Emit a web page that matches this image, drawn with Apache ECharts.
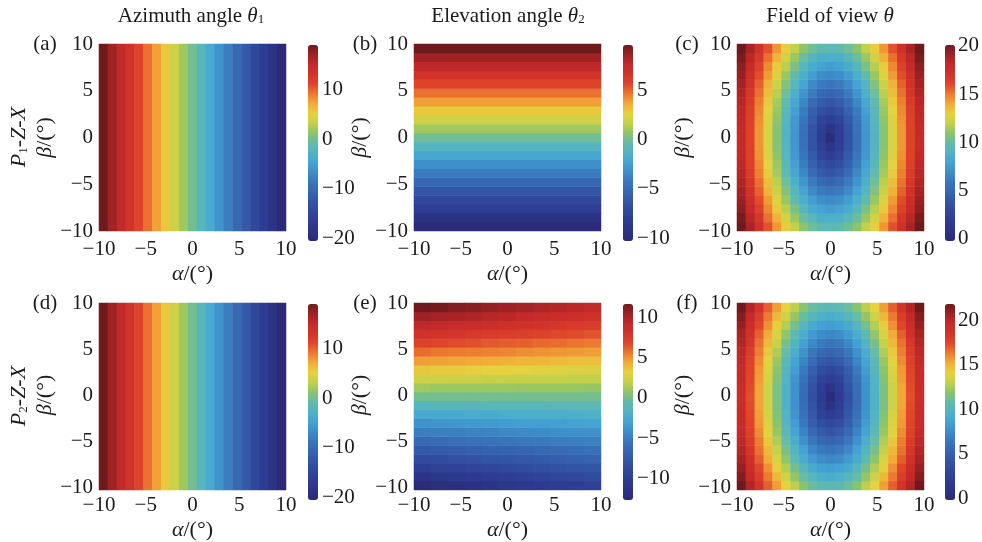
<!DOCTYPE html>
<html>
<head>
<meta charset="utf-8">
<script src="https://cdn.jsdelivr.net/npm/echarts@6/dist/echarts.min.js"></script>
<style>
  html, body { margin: 0; padding: 0; background: #fff; }
  #chart { width: 982px; height: 542px; }
</style>
</head>
<body>
<div id="chart"></div>
<script>
// grid points (degrees)
const alphaCats = [-10, -9, -8, -7, -6, -5, -4, -3, -2, -1, 0, 1, 2, 3, 4, 5, 6, 7, 8, 9, 10];
const betaCats = [-10, -9, -8, -7, -6, -5, -4, -3, -2, -1, 0, 1, 2, 3, 4, 5, 6, 7, 8, 9, 10];
const elevAlphaCats = [-10, -8, -6, -4, -2, 0, 2, 4, 6, 8, 10];
const anyCat = ['all'];   // a single band where the value does not depend on that angle

// azimuth angle theta1 vs alpha (same for every beta)
const azimuthP1 = [19.0, 17.1, 15.2, 13.3, 11.4, 9.5, 7.6, 5.7, 3.8, 1.9, 0.0, -2.0, -4.0, -6.1, -8.1, -10.2, -12.2, -14.3, -16.4, -18.5, -20.6];
const azimuthP2 = [19.0, 17.1, 15.2, 13.3, 11.4, 9.5, 7.6, 5.7, 3.8, 1.9, 0.0, -2.0, -4.0, -6.1, -8.1, -10.2, -12.2, -14.3, -16.4, -18.5, -20.6];

// elevation angle theta2 vs beta (P1, same for every alpha)
const elevationP1 = [-10.3, -9.3, -8.3, -7.3, -6.3, -5.2, -4.2, -3.2, -2.1, -1.1, 0.0, 1.0, 1.9, 2.9, 3.9, 4.8, 5.8, 6.7, 7.7, 8.6, 9.6];

// elevation angle theta2 (P2): rows beta -10..10, columns alpha -10..10 step 2
const elevationP2 = [
  [-12.5, -12.2, -11.9, -11.7, -11.4, -11.1, -10.8, -10.5, -10.3, -10.0, -9.7],
  [-11.3, -11.0, -10.7, -10.5, -10.2, -10.0, -9.7, -9.5, -9.2, -9.0, -8.7],
  [-10.0, -9.8, -9.6, -9.3, -9.1, -8.9, -8.7, -8.4, -8.2, -8.0, -7.8],
  [-8.8, -8.6, -8.4, -8.2, -8.0, -7.8, -7.6, -7.4, -7.2, -7.0, -6.8],
  [-7.5, -7.3, -7.2, -7.0, -6.8, -6.7, -6.5, -6.3, -6.2, -6.0, -5.8],
  [-6.3, -6.1, -6.0, -5.8, -5.7, -5.6, -5.4, -5.3, -5.1, -5.0, -4.9],
  [-5.0, -4.9, -4.8, -4.7, -4.6, -4.4, -4.3, -4.2, -4.1, -4.0, -3.9],
  [-3.8, -3.7, -3.6, -3.5, -3.4, -3.3, -3.2, -3.2, -3.1, -3.0, -2.9],
  [-2.5, -2.4, -2.4, -2.3, -2.3, -2.2, -2.2, -2.1, -2.1, -2.0, -1.9],
  [-1.3, -1.2, -1.2, -1.2, -1.1, -1.1, -1.1, -1.1, -1.0, -1.0, -1.0],
  [0.0, 0.0, 0.0, 0.0, 0.0, 0.0, 0.0, 0.0, 0.0, 0.0, 0.0],
  [1.2, 1.1, 1.1, 1.1, 1.1, 1.1, 1.0, 1.0, 1.0, 1.0, 0.9],
  [2.3, 2.3, 2.2, 2.2, 2.1, 2.1, 2.1, 2.0, 2.0, 1.9, 1.9],
  [3.5, 3.4, 3.4, 3.3, 3.2, 3.2, 3.1, 3.0, 2.9, 2.9, 2.8],
  [4.7, 4.6, 4.5, 4.4, 4.3, 4.2, 4.1, 4.0, 3.9, 3.8, 3.7],
  [5.9, 5.7, 5.6, 5.5, 5.4, 5.3, 5.1, 5.0, 4.9, 4.8, 4.7],
  [7.0, 6.9, 6.7, 6.6, 6.4, 6.3, 6.2, 6.0, 5.9, 5.7, 5.6],
  [8.2, 8.0, 7.9, 7.7, 7.5, 7.4, 7.2, 7.0, 6.8, 6.7, 6.5],
  [9.4, 9.2, 9.0, 8.8, 8.6, 8.4, 8.2, 8.0, 7.8, 7.6, 7.4],
  [10.5, 10.3, 10.1, 9.9, 9.7, 9.5, 9.2, 9.0, 8.8, 8.6, 8.4],
  [11.7, 11.5, 11.2, 11.0, 10.7, 10.5, 10.3, 10.0, 9.8, 9.5, 9.3]
];

// field of view theta, one quadrant: rows |beta| 0..10, columns |alpha| 0..10 (plot is symmetric)
const fovP1Quarter = [
  [0.0, 1.8, 3.6, 5.4, 7.2, 9.0, 10.8, 12.6, 14.4, 16.2, 18.0],
  [1.0, 2.0, 3.7, 5.5, 7.3, 9.1, 10.8, 12.6, 14.4, 16.2, 18.0],
  [1.9, 2.6, 4.1, 5.7, 7.4, 9.2, 11.0, 12.7, 14.5, 16.3, 18.1],
  [2.9, 3.4, 4.6, 6.1, 7.7, 9.4, 11.2, 12.9, 14.7, 16.4, 18.2],
  [3.8, 4.2, 5.2, 6.6, 8.1, 9.8, 11.4, 13.2, 14.9, 16.6, 18.4],
  [4.8, 5.1, 6.0, 7.2, 8.6, 10.2, 11.8, 13.5, 15.2, 16.9, 18.6],
  [5.7, 6.0, 6.7, 7.9, 9.2, 10.7, 12.2, 13.8, 15.5, 17.2, 18.9],
  [6.7, 6.9, 7.6, 8.6, 9.8, 11.2, 12.7, 14.3, 15.9, 17.5, 19.2],
  [7.6, 7.8, 8.4, 9.3, 10.5, 11.8, 13.2, 14.7, 16.3, 17.9, 19.5],
  [8.6, 8.7, 9.3, 10.1, 11.2, 12.4, 13.8, 15.2, 16.8, 18.3, 19.9],
  [9.5, 9.7, 10.2, 10.9, 11.9, 13.1, 14.4, 15.8, 17.3, 18.8, 20.4]
];
const fovP2Quarter = [
  [0.0, 1.9, 3.8, 5.7, 7.7, 9.6, 11.5, 13.4, 15.3, 17.2, 19.1],
  [1.0, 2.2, 4.0, 5.8, 7.7, 9.6, 11.5, 13.4, 15.3, 17.3, 19.2],
  [2.1, 2.8, 4.4, 6.1, 7.9, 9.8, 11.7, 13.6, 15.5, 17.4, 19.3],
  [3.1, 3.6, 4.9, 6.5, 8.3, 10.1, 11.9, 13.8, 15.6, 17.5, 19.4],
  [4.1, 4.6, 5.6, 7.1, 8.7, 10.4, 12.2, 14.0, 15.9, 17.7, 19.6],
  [5.2, 5.5, 6.4, 7.7, 9.2, 10.9, 12.6, 14.4, 16.2, 18.0, 19.8],
  [6.2, 6.5, 7.3, 8.5, 9.9, 11.4, 13.1, 14.8, 16.5, 18.3, 20.1],
  [7.2, 7.5, 8.2, 9.2, 10.5, 12.0, 13.6, 15.2, 16.9, 18.7, 20.5],
  [8.3, 8.5, 9.1, 10.1, 11.3, 12.7, 14.2, 15.8, 17.4, 19.1, 20.9],
  [9.3, 9.5, 10.1, 10.9, 12.1, 13.4, 14.8, 16.3, 17.9, 19.6, 21.3],
  [10.4, 10.5, 11.0, 11.8, 12.9, 14.1, 15.5, 16.9, 18.5, 20.1, 21.8]
];

// colorbar tick labels
const azimuthTicks = [-20, -10, 0, 10];
const elevationP1Ticks = [-10, -5, 0, 5];
const elevationP2Ticks = [-10, -5, 0, 5, 10];
const fovTicks = [0, 5, 10, 15, 20];

const FONT = 'Liberation Serif';
const TXT = '#1b1b1b';
const JET = ['#2a2a78', '#2c3385', '#2e3c92', '#30479b', '#3355a5', '#3665b0', '#3977bc',
             '#3d8dc8', '#45a3d4', '#50b3c6', '#62bbab', '#8cc46a', '#c4d04a', '#e6d23f',
             '#f2ab38', '#ec7a30', '#df462b', '#d2332a', '#c32a29', '#9f2225', '#6e1a1c'];

function minus(v) { return String(v).replace('-', '\u2212'); }

function buildCells(xs, ys, valueAt) {
  const out = [];
  ys.forEach((b, j) => xs.forEach((a, i) => out.push([i, j, valueAt(i, j, a, b)])));
  return out;
}

const COLS = [99, 414, 737];
const ROWS = [44, 303];
const CB_LEFT = [308, 623, 945];

const panels = [
  { col: 0, row: 0, xs: alphaCats, ys: anyCat, range: [-20.6, 19.1], ticks: azimuthTicks,
    cells: buildCells(alphaCats, anyCat, (i) => azimuthP1[i]) },
  { col: 1, row: 0, xs: anyCat, ys: betaCats, range: [-10.3, 9.6], ticks: elevationP1Ticks,
    cells: buildCells(anyCat, betaCats, (i, j) => elevationP1[j]) },
  { col: 2, row: 0, xs: alphaCats, ys: betaCats, range: [-0.3, 20.1], ticks: fovTicks,
    cells: buildCells(alphaCats, betaCats, (i, j, a, b) => fovP1Quarter[Math.abs(b)][Math.abs(a)]) },
  { col: 0, row: 1, xs: alphaCats, ys: anyCat, range: [-20.6, 19.1], ticks: azimuthTicks,
    cells: buildCells(alphaCats, anyCat, (i) => azimuthP2[i]) },
  { col: 1, row: 1, xs: elevAlphaCats, ys: betaCats, range: [-12.7, 11.7], ticks: elevationP2Ticks,
    cells: buildCells(elevAlphaCats, betaCats, (i, j) => elevationP2[j][i]) },
  { col: 2, row: 1, xs: alphaCats, ys: betaCats, range: [-0.2, 21.8], ticks: fovTicks,
    cells: buildCells(alphaCats, betaCats, (i, j, a, b) => fovP2Quarter[Math.abs(b)][Math.abs(a)]) }
];

const labelStyle = { fontFamily: FONT, fontSize: 21, color: TXT };
const nameStyle = { fontFamily: FONT, fontSize: 22, color: TXT,
  rich: { i: { fontFamily: FONT, fontSize: 22, fontStyle: 'italic', color: TXT } } };

const grids = [], xAxes = [], yAxes = [], series = [], visualMaps = [];
panels.forEach((p, k) => {
  const left = COLS[p.col], top = ROWS[p.row];
  const g = grids.length, ax = xAxes.length;
  const box = { left: left, top: top, width: 187, height: 187 };
  grids.push(Object.assign({}, box));
  grids.push(Object.assign({}, box));
  grids.push({ left: CB_LEFT[p.col], top: top + 1, width: 10, height: 196 });

  // heatmap axes (hidden)
  xAxes.push({ type: 'category', gridIndex: g, data: p.xs, show: false });
  yAxes.push({ type: 'category', gridIndex: g, data: p.ys, show: false });
  // display axes
  xAxes.push({
    type: 'value', gridIndex: g + 1, min: -10, max: 10, interval: 5,
    axisLine: { show: false }, axisTick: { show: false }, splitLine: { show: false },
    axisLabel: Object.assign({ margin: 8, formatter: minus }, labelStyle),
    name: '{i|\u03b1}/(\u00b0)', nameLocation: 'middle', nameGap: 32,
    nameTextStyle: nameStyle
  });
  yAxes.push({
    type: 'value', gridIndex: g + 1, min: -10, max: 10, interval: 5,
    axisLine: { show: false }, axisTick: { show: false }, splitLine: { show: false },
    axisLabel: Object.assign({ margin: 6, formatter: minus }, labelStyle),
    name: '{i|\u03b2}/(\u00b0)', nameLocation: 'middle', nameGap: 23,
    nameTextStyle: nameStyle
  });
  // colorbar axes
  xAxes.push({ type: 'value', gridIndex: g + 2, show: false, min: 0, max: 1 });
  yAxes.push({
    type: 'value', gridIndex: g + 2, position: 'right', min: p.range[0], max: p.range[1],
    axisLine: { show: false }, axisTick: { show: false }, splitLine: { show: false },
    axisLabel: Object.assign({ margin: 4, formatter: minus, customValues: p.ticks }, labelStyle)
  });

  series.push({
    type: 'heatmap', xAxisIndex: ax, yAxisIndex: ax, data: p.cells,
    silent: true, emphasis: { disabled: true }, progressive: 0
  });
  visualMaps.push({
    type: 'continuous', seriesIndex: k, min: p.range[0], max: p.range[1],
    calculable: false, hoverLink: false, padding: 0,
    left: CB_LEFT[p.col], top: top + 1, itemWidth: 10, itemHeight: 196,
    inRange: { color: JET }
  });
});

function textEl(x, y, text, size, extra) {
  return Object.assign({
    type: 'text', x: x, y: y, silent: true,
    style: {
      text: text, fontFamily: FONT, fontSize: size, fill: TXT, align: 'center', verticalAlign: 'middle',
      rich: {
        i: { fontFamily: FONT, fontSize: size, fontStyle: 'italic', color: TXT },
        s: { fontFamily: FONT, fontSize: 13, color: TXT, verticalAlign: 'bottom', padding: [8, 0, 0, 0] }
      }
    }
  }, extra || {});
}

const graphics = [
  textEl(191, 16, 'Azimuth angle {i|\u03b8}{s|1}', 21),
  textEl(508, 16, 'Elevation angle {i|\u03b8}{s|2}', 21),
  textEl(830, 16, 'Field of view {i|\u03b8}', 21),
  textEl(45, 44, '(a)', 21), textEl(365, 44, '(b)', 21), textEl(687, 44, '(c)', 21),
  textEl(45, 303, '(d)', 21), textEl(365, 303, '(e)', 21), textEl(687, 303, '(f)', 21),
  textEl(19, 137, '{i|P}{s|1}-{i|Z}-{i|X}', 22, { rotation: Math.PI / 2 }),
  textEl(19, 396, '{i|P}{s|2}-{i|Z}-{i|X}', 22, { rotation: Math.PI / 2 })
];

const chart = echarts.init(document.getElementById('chart'));
chart.setOption({
  animation: false,
  backgroundColor: '#fff',
  textStyle: { fontFamily: FONT },
  grid: grids,
  xAxis: xAxes,
  yAxis: yAxes,
  visualMap: visualMaps,
  series: series,
  graphic: graphics
});
</script>
</body>
</html>
